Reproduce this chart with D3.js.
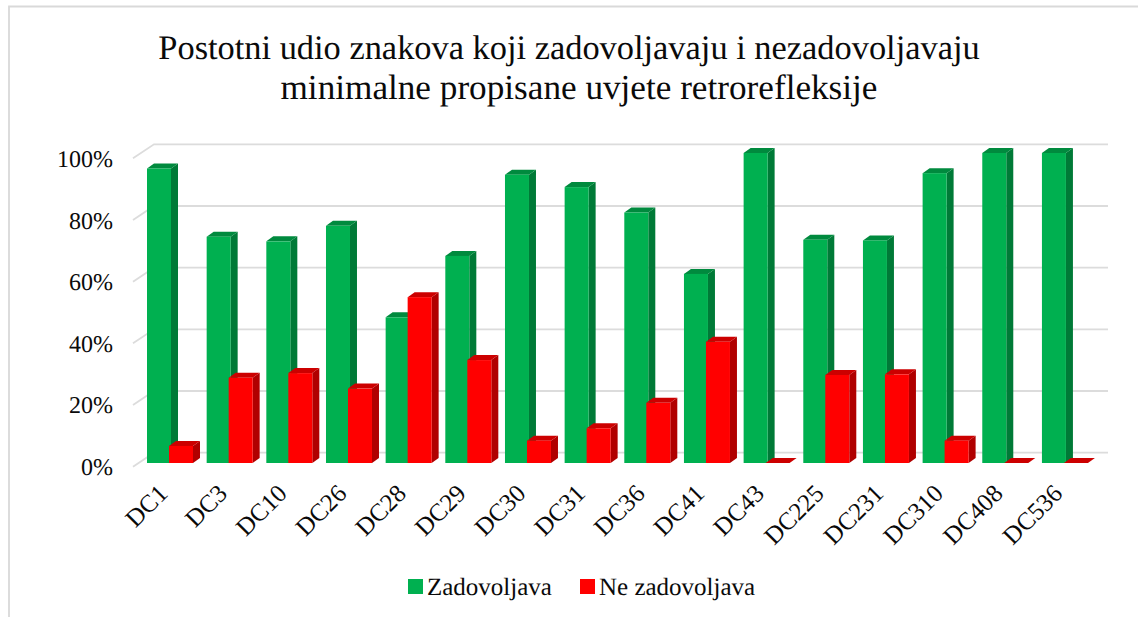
<!DOCTYPE html>
<html>
<head>
<meta charset="utf-8">
<script src="https://cdn.jsdelivr.net/npm/d3@7"></script>
<style>
html, body { margin: 0; padding: 0; background: #fff; }
svg { display: block; }
text { font-family: "Liberation Serif", serif; fill: #0a0a0a; text-rendering: geometricPrecision; }
</style>
</head>
<body>
<svg id="chart" width="1138" height="617"></svg>
<script>
const categories = ['DC1', 'DC3', 'DC10', 'DC26', 'DC28', 'DC29', 'DC30', 'DC31', 'DC36', 'DC41', 'DC43', 'DC225', 'DC231', 'DC310', 'DC408', 'DC536'];
const zadovoljava = [95, 73, 71.5, 76.5, 47, 66.8, 93, 89, 80.8, 61, 100, 72, 71.8, 93.5, 100, 100];
const neZadovoljava = [5.5, 27.5, 29, 24, 53.5, 33.2, 7.2, 11.2, 19.4, 39.1, 0, 28.4, 28.6, 7.2, 0, 0];
const yTicks = [0, 20, 40, 60, 80, 100];
const titleLines = ['Postotni udio znakova koji zadovoljavaju i nezadovoljavaju', 'minimalne propisane uvjete retrorefleksije'];
const seriesNames = ['Zadovoljava', 'Ne zadovoljava'];

const svg = d3.select('#chart');
const colors = { front: ['#00b050', '#ff0000'], side: ['#007a37', '#b00000'], top: ['#008a3e', '#cc0000'] };

// frame
svg.append('path').attr('d', 'M9,617V6.5H1138').attr('fill', 'none').attr('stroke', '#d9d9d9').attr('stroke-width', 1.8);

// title
svg.append('g').selectAll('text').data(titleLines).join('text')
    .attr('x', (d, i) => i ? 579 : 569)
    .attr('y', (d, i) => 59 + i * 40)
    .attr('text-anchor', 'middle')
    .attr('font-size', (d, i) => i ? 35.2 : 34.4)
    .text(d => d);

// scales: y is the front of the bars, yBack the back wall of the plot
const y = d3.scaleLinear().domain([0, 100]).range([463, 153]);
const yBack = d3.scaleLinear().domain([0, 100]).range([452.7, 144.3]);
const yLabel = d3.scaleLinear().domain([0, 100]).range([475, 167]);
const x = d3.scaleBand().domain(categories).range([135, 1089.6]).paddingInner(0).paddingOuter(0);
const barW = 24, shift = 22, dx = 7, dy = 5;

// gridlines
const grid = svg.append('g').selectAll('g').data(yTicks).join('g');
grid.append('path')
    .attr('d', d => `M133,${yBack(d) + 14}L154,${yBack(d)}H1108`)
    .attr('fill', 'none')
    .attr('stroke', '#dcdcdc')
    .attr('stroke-width', 1.8);

// y labels
svg.append('g').selectAll('text').data(yTicks).join('text')
    .attr('x', 113)
    .attr('y', d => yLabel(d))
    .attr('text-anchor', 'end')
    .attr('font-size', 24)
    .text(d => d + '%');

// one 3d bar = side, top, front
function bar3d(g, px, val, s) {
    const top = y(val), base = y(0);
    g.append('path').attr('fill', colors.side[s])
        .attr('d', `M${px + barW},${base}V${top}L${px + barW + dx},${top - dy}V${base - dy}Z`);
    g.append('path').attr('fill', colors.top[s])
        .attr('d', `M${px},${top}L${px + dx},${top - dy}H${px + barW + dx}L${px + barW},${top}Z`);
    g.append('rect').attr('fill', colors.front[s])
        .attr('x', px).attr('y', top).attr('width', barW).attr('height', base - top);
}

const bars = svg.append('g');
categories.forEach((c, i) => {
    const g = bars.append('g');
    const px = x(c) + 12;
    bar3d(g, px, zadovoljava[i], 0);
    bar3d(g, px + shift, neZadovoljava[i], 1);
});

// x labels
svg.append('g').selectAll('text').data(categories).join('text')
    .attr('text-anchor', 'end')
    .attr('font-size', 25)
    .attr('transform', d => `translate(${x(d) + 34},495) rotate(-45)`)
    .text(d => d);

// legend
const legendX = [408, 580];
const legend = svg.append('g').selectAll('g').data(seriesNames).join('g');
legend.append('rect')
    .attr('x', (d, i) => legendX[i]).attr('y', 579)
    .attr('width', 15).attr('height', 15)
    .attr('fill', (d, i) => colors.front[i]);
legend.append('text')
    .attr('x', (d, i) => legendX[i] + 19).attr('y', 595)
    .attr('font-size', 25)
    .text(d => d);
</script>
</body>
</html>
